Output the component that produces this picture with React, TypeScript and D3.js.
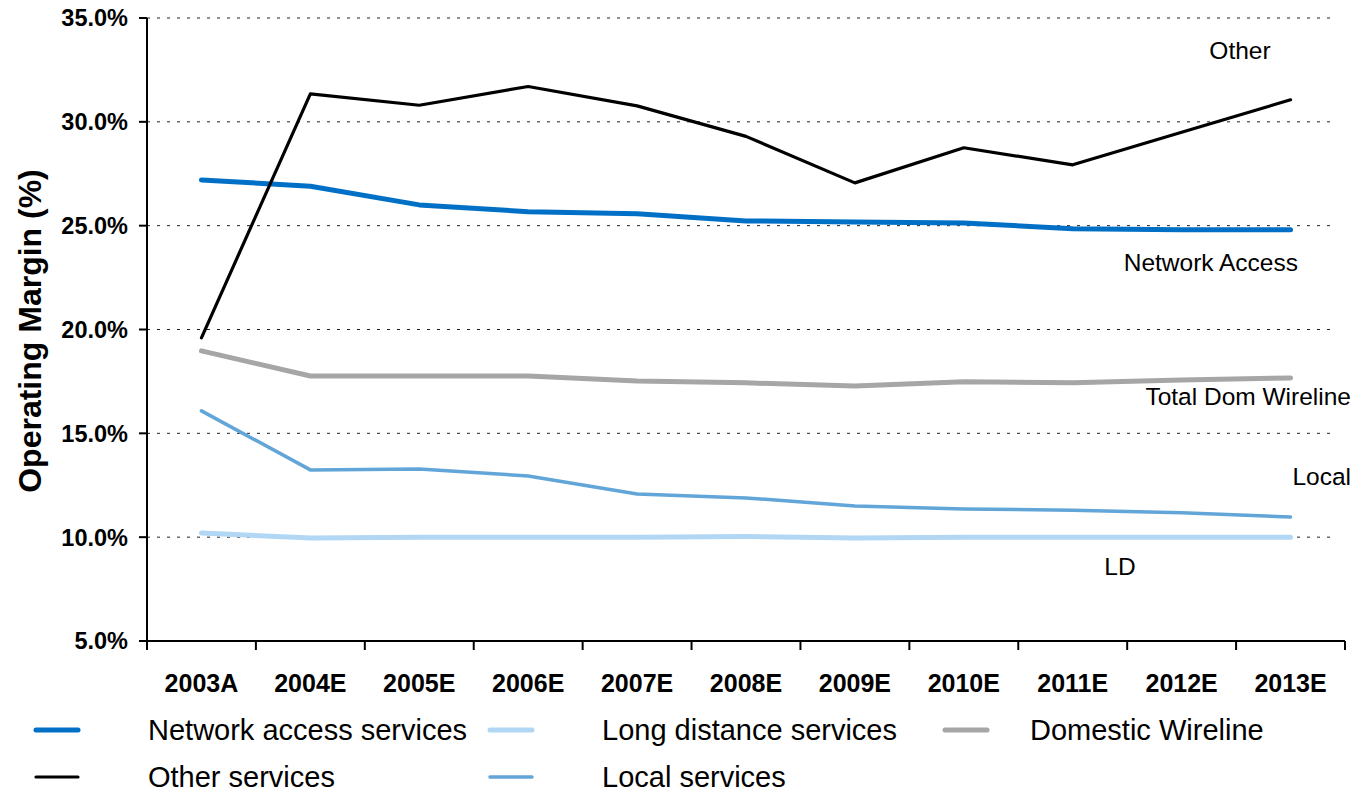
import * as d3 from 'd3'

const years = ['2003A', '2004E', '2005E', '2006E', '2007E', '2008E', '2009E', '2010E', '2011E', '2012E', '2013E']

const networkAccess = [27.2, 26.9, 26.0, 25.67, 25.57, 25.23, 25.18, 25.13, 24.85, 24.8, 24.8]
const otherServices = [19.6, 31.35, 30.8, 31.7, 30.77, 29.3, 27.06, 28.75, 27.93, 29.5, 31.06]
const domesticWireline = [18.97, 17.76, 17.76, 17.76, 17.52, 17.43, 17.28, 17.48, 17.43, 17.57, 17.67]
const localServices = [16.08, 13.24, 13.28, 12.95, 12.08, 11.89, 11.5, 11.36, 11.3, 11.17, 10.97]
const longDistance = [10.2, 9.96, 10.0, 10.0, 10.0, 10.03, 9.96, 10.0, 10.0, 10.0, 10.0]

const yTicks = [5, 10, 15, 20, 25, 30, 35]

type Series = { name: string; values: number[]; color: string; width: number }

const series: Series[] = [
  { name: 'Domestic Wireline', values: domesticWireline, color: '#a6a6a6', width: 5 },
  { name: 'Long distance services', values: longDistance, color: '#b1d7f4', width: 5 },
  { name: 'Local services', values: localServices, color: '#62a5d8', width: 3.5 },
  { name: 'Network access services', values: networkAccess, color: '#0070c6', width: 5 },
  { name: 'Other services', values: otherServices, color: '#000000', width: 3.2 },
]

// legend order: row by row, three columns
const legendOrder = [
  'Network access services',
  'Long distance services',
  'Domestic Wireline',
  'Other services',
  'Local services',
]

const annotations = [
  { text: 'Other', x: 1240, y: 59, anchor: 'middle' },
  { text: 'Network Access', x: 1298, y: 271, anchor: 'end' },
  { text: 'Total Dom Wireline', x: 1351, y: 405, anchor: 'end' },
  { text: 'Local', x: 1351, y: 485, anchor: 'end' },
  { text: 'LD', x: 1120, y: 575, anchor: 'middle' },
]

const font = 'Arial, "Liberation Sans", sans-serif'

export default function App() {
  const width = 1354
  const height = 792
  const left = 147
  const right = 1345
  const top = 18
  const bottom = 641

  const x = d3.scaleBand<string>().domain(years).range([left, right])
  const y = d3.scaleLinear().domain([5, 35]).range([bottom, top])

  const line = d3
    .line<number>()
    .x((_, i) => (x(years[i]) ?? 0) + x.bandwidth() / 2)
    .y((d) => y(d))

  const bounds = [...years.map((yr) => x(yr) ?? 0), right]

  const legendCols = [36, 490, 945]
  const legendTextCols = [148, 602, 1030]
  const legendRows = [730, 777]

  return (
    <div style={{ position: 'absolute', left: 0, top: 0 }}>
      <svg width={width} height={height} style={{ display: 'block', background: '#fff' }}>
        {/* gridlines */}
        {yTicks
          .filter((t) => t > 5)
          .map((t) => (
            <line
              key={t}
              x1={left}
              x2={1335}
              y1={y(t)}
              y2={y(t)}
              stroke="#222"
              strokeWidth={1}
              strokeDasharray="3,7"
            />
          ))}

        {/* axes */}
        <line x1={left} x2={left} y1={top} y2={bottom} stroke="#000" strokeWidth={2} />
        <line x1={left} x2={right} y1={bottom} y2={bottom} stroke="#000" strokeWidth={2} />
        {yTicks.map((t) => (
          <g key={t}>
            <line x1={left - 8} x2={left} y1={y(t)} y2={y(t)} stroke="#000" strokeWidth={2} />
            <text
              x={128}
              y={y(t)}
              dy="0.36em"
              textAnchor="end"
              fontFamily={font}
              fontWeight="bold"
              fontSize={23.5}
            >
              {t.toFixed(1)}%
            </text>
          </g>
        ))}
        {bounds.map((b, i) => (
          <line key={i} x1={b} x2={b} y1={bottom} y2={bottom + 9} stroke="#000" strokeWidth={2} />
        ))}
        {years.map((yr) => (
          <text
            key={yr}
            x={(x(yr) ?? 0) + x.bandwidth() / 2}
            y={692}
            textAnchor="middle"
            fontFamily={font}
            fontWeight="bold"
            fontSize={25}
          >
            {yr}
          </text>
        ))}
        <text
          transform={`translate(41, 331) rotate(-90)`}
          textAnchor="middle"
          fontFamily={font}
          fontWeight="bold"
          fontSize={32}
        >
          Operating Margin (%)
        </text>

        {/* lines */}
        {series.map((s) => (
          <path
            key={s.name}
            d={line(s.values) ?? ''}
            fill="none"
            stroke={s.color}
            strokeWidth={s.width}
            strokeLinecap="round"
            strokeLinejoin="round"
          />
        ))}

        {/* annotations */}
        {annotations.map((a) => (
          <text
            key={a.text}
            x={a.x}
            y={a.y}
            textAnchor={a.anchor as 'start' | 'middle' | 'end'}
            fontFamily={font}
            fontSize={24.5}
          >
            {a.text}
          </text>
        ))}

        {/* legend */}
        {legendOrder.map((name, i) => {
          const s = series.find((d) => d.name === name)!
          const col = i % 3
          const row = Math.floor(i / 3)
          const ly = legendRows[row]
          return (
            <g key={name}>
              <line
                x1={legendCols[col]}
                x2={legendCols[col] + 42}
                y1={ly}
                y2={ly}
                stroke={s.color}
                strokeWidth={s.width}
                strokeLinecap="round"
              />
              <text
                x={legendTextCols[col]}
                y={ly}
                dy="0.36em"
                fontFamily={font}
                fontSize={29}
              >
                {name}
              </text>
            </g>
          )
        })}
      </svg>
    </div>
  )
}
